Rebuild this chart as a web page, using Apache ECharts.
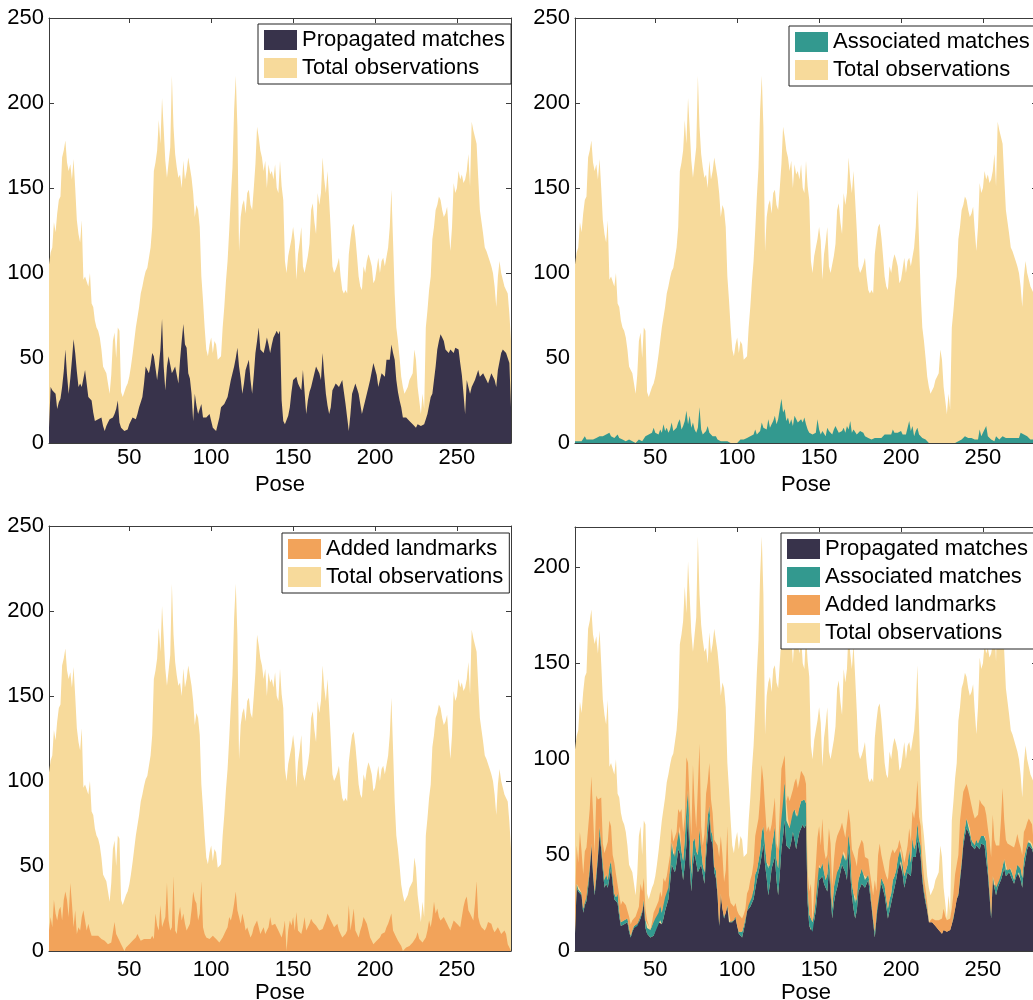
<!DOCTYPE html>
<html>
<head>
<meta charset="utf-8">
<script src="https://cdn.jsdelivr.net/npm/echarts@6/dist/echarts.min.js"></script>
<style>
html,body{margin:0;padding:0;background:#fff;overflow:hidden;}
#chart{width:1033px;height:1000px;}
</style>
</head>
<body>
<div id="chart"></div>
<script>
// ---- data ----
const totalObservations = [
105,112,115,130,124,135,143,145,168,172,
178,165,160,164,155,167,150,131,123,118,
131,96,98,95,92,100,82,80,72,68,
66,62,55,45,43,41,35,29,40,60,
65,50,68,66,30,27,30,33,35,39,
45,52,60,68,74,80,88,92,97,101,
103,104,115,127,160,165,172,190,176,203,
185,166,156,165,174,216,186,170,162,156,
158,150,166,155,160,168,162,156,147,133,
140,137,127,98,84,68,55,51,58,62,
53,60,58,49,50,51,68,80,95,107,
125,145,162,196,216,186,113,133,140,143,
135,147,149,140,137,150,164,186,180,172,
168,160,166,150,164,158,160,155,164,150,
147,166,151,143,107,100,110,115,120,127,
119,96,111,118,127,104,100,100,110,117,
137,141,130,123,147,140,147,168,155,147,
160,143,125,104,100,102,105,109,98,90,
88,90,88,111,120,127,129,121,110,98,
92,90,104,100,107,111,108,104,94,96,
96,109,100,107,109,104,104,115,127,149,
119,88,68,60,50,39,33,29,30,33,
37,39,41,55,49,33,25,17,29,20,
68,78,90,98,120,127,137,140,145,143,
137,133,135,139,125,113,127,153,147,150,
160,155,158,153,155,160,170,151,189,184,
180,176,156,137,130,123,115,113,110,107,
104,100,92,80,98,107,100,96,92,90,
88,76,60];

const propagatedMatches = [
9,33,31,30,29,20,24,26,33,42,
55,40,29,38,49,61,53,42,33,35,
33,38,43,35,27,26,25,18,13,14,
14,15,15,10,7,10,12,14,13,15,
17,20,25,12,9,8,7,7,8,11,
12,15,16,14,17,21,24,27,35,45,
43,41,46,53,51,44,37,45,55,73,
45,31,45,51,46,41,43,45,40,35,
49,60,70,58,56,41,38,29,13,29,
22,17,20,23,15,15,15,16,17,13,
9,8,7,11,15,21,22,23,25,27,
32,37,41,45,50,56,45,38,29,35,
43,46,49,37,29,40,53,60,68,55,
54,53,57,62,58,53,58,62,64,66,
64,66,25,13,11,10,16,21,30,37,
38,39,35,33,31,43,30,17,25,30,
33,37,41,45,43,41,37,53,40,29,
22,17,21,31,33,35,34,33,35,37,
30,23,15,7,17,29,29,35,32,29,
23,17,21,25,29,33,37,42,47,47,
40,33,37,41,40,39,49,49,49,58,
53,49,37,30,25,21,15,15,15,14,
13,12,11,10,9,11,11,10,10,11,
14,17,22,27,29,37,45,55,60,64,
62,60,55,54,53,55,54,53,56,55,
55,47,40,29,17,37,33,29,33,35,
37,40,43,39,40,41,39,37,35,38,
41,41,37,33,43,48,53,55,54,53,
50,47,21];

const associatedMatches = [
1,2,1,2,1,2,4,2,3,2,
1,2,2,3,2,4,3,4,4,5,
4,6,4,3,3,2,5,3,2,2,
2,1,2,2,1,1,1,0,1,2,
1,1,2,4,3,5,4,6,9,6,
7,5,8,6,11,7,9,6,8,12,
7,8,9,12,14,8,10,13,19,11,
16,9,12,8,6,9,21,8,5,6,
7,10,6,5,4,3,4,2,1,1,
0,1,0,1,0,0,1,0,1,0,
1,2,3,2,2,3,2,4,3,5,
8,5,6,7,12,9,10,8,14,9,
11,13,16,11,14,20,26,18,20,13,
15,11,14,10,16,17,12,13,14,12,
15,11,8,6,6,5,4,6,14,8,
5,7,6,4,9,7,6,5,8,10,
8,6,5,7,9,6,10,8,13,6,
8,8,5,6,7,8,6,4,3,3,
4,2,2,3,2,3,2,3,4,5,
4,5,6,5,8,6,5,6,7,7,
5,6,5,4,13,7,10,4,7,9,
5,6,3,2,2,1,0,0,0,0,
0,0,0,0,0,0,0,0,0,0,
0,1,0,0,1,2,2,3,4,5,
3,4,3,2,2,3,2,8,4,6,
5,10,4,3,2,2,1,4,3,2,
3,4,5,3,2,3,4,3,2,3,
4,3,6,5,5,4,4,3,2,3,
2,3,2];

const addedLandmarks = [
12,20,14,30,22,18,24,26,18,30,
35,30,20,40,28,14,24,10,14,12,
20,24,18,12,16,12,9,8,9,10,
9,8,7,6,6,5,4,4,5,6,
17,10,11,6,4,2,0,2,3,4,
5,6,7,8,10,8,6,7,7,7,
7,8,7,9,7,22,15,12,27,14,
17,20,40,18,12,14,44,12,10,20,
26,18,22,16,12,14,16,24,35,30,
28,18,22,41,14,10,8,7,7,8,
9,8,7,6,5,6,8,10,12,14,
20,18,22,28,35,24,20,16,22,18,
12,14,15,8,10,14,16,18,14,10,
12,14,10,12,14,20,15,14,16,17,
12,10,8,12,18,0,12,18,15,20,
12,23,12,11,10,14,20,12,14,16,
19,17,18,15,14,12,12,13,14,18,
22,23,18,16,14,15,16,12,10,8,
7,10,12,27,12,18,25,12,10,8,
12,15,20,21,16,12,8,6,4,5,
6,7,8,10,11,11,14,16,19,22,
12,10,8,6,5,3,0,1,2,2,
3,3,5,6,8,11,7,6,5,6,
8,12,18,14,20,29,22,25,20,18,
19,20,18,16,14,12,15,18,17,16,
15,14,20,26,30,32,24,22,20,18,
28,41,20,16,14,13,12,14,17,16,
16,13,11,12,14,12,10,11,12,10,
4,2,0];

const xTicks = ['50', '100', '150', '200', '250'];
const yTicks = [0, 50, 100, 150, 200, 250];
const yTicksBR = [0, 50, 100, 150, 200];
const NAMES = {
  prop: 'Propagated matches',
  assoc: 'Associated matches',
  added: 'Added landmarks',
  total: 'Total observations'
};

// ---- styling ----
const FONT = '"Liberation Sans", Arial, sans-serif';
const COLORS = {prop:'#38334b', assoc:'#33998f', added:'#f2a35a', total:'#f7da9b'};
const AX = '#3c3c3c';
const poses = totalObservations.map((_, i) => String(i + 1));
const showTick = (idx, val) => xTicks.indexOf(String(val)) >= 0;

const grids = [
  {left:49, top:18, width:462, height:425, outerBoundsMode:'none', containLabel:false},
  {left:575, top:18, width:462, height:425, outerBoundsMode:'none', containLabel:false},
  {left:49, top:526, width:462, height:425, outerBoundsMode:'none', containLabel:false},
  {left:575, top:527, width:462, height:424, outerBoundsMode:'none', containLabel:false}
];
const yMax = [250, 250, 250, 221];

const xAxis = [], yAxis = [];
grids.forEach((g, i) => {
  xAxis.push({
    type:'category', data:poses, boundaryGap:false, gridIndex:i, position:'bottom',
    axisLine:{show:true, onZero:false, lineStyle:{color:AX, width:1}},
    axisTick:{show:true, inside:true, length:5, interval:showTick, lineStyle:{color:AX}},
    axisLabel:{show:true, interval:showTick, color:'#000', fontSize:22, fontFamily:FONT, margin: i < 2 ? 4 : 8},
    splitLine:{show:false},
    name:'Pose', nameLocation:'middle', nameGap: i < 2 ? 31 : 28,
    nameTextStyle:{color:'#000', fontSize:22, fontFamily:FONT}
  });
});
grids.forEach((g, i) => {
  xAxis.push({
    type:'category', data:poses, boundaryGap:false, gridIndex:i, position:'top',
    axisLine:{show:true, onZero:false, lineStyle:{color:AX, width:1}},
    axisTick:{show:true, inside:true, length:5, interval:showTick, lineStyle:{color:AX}},
    axisLabel:{show:false}, splitLine:{show:false}
  });
});
grids.forEach((g, i) => {
  const t = i === 3 ? yTicksBR : yTicks;
  yAxis.push({
    type:'value', gridIndex:i, min:0, max:yMax[i], position:'left',
    axisLine:{show:true, onZero:false, lineStyle:{color:AX, width:1}},
    axisTick:{show:true, inside:true, length:5, customValues:t, lineStyle:{color:AX}},
    axisLabel:{show:true, customValues:t, color:'#000', fontSize:22, fontFamily:FONT, margin:5},
    splitLine:{show:false}
  });
});
grids.forEach((g, i) => {
  const t = i === 3 ? yTicksBR : yTicks;
  yAxis.push({
    type:'value', gridIndex:i, min:0, max:yMax[i], position:'right',
    axisLine:{show:true, onZero:false, lineStyle:{color:AX, width:1}},
    axisTick:{show:true, inside:true, length:5, customValues:t, lineStyle:{color:AX}},
    axisLabel:{show:false}, splitLine:{show:false}
  });
});

function area(key, data, gi, stack) {
  const s = {
    name: NAMES[key], type:'line', xAxisIndex:gi, yAxisIndex:gi,
    data: data, showSymbol:false, symbol:'none', silent:true,
    color: COLORS[key],
    lineStyle:{width:0, opacity:0},
    itemStyle:{color:COLORS[key]},
    areaStyle:{color:COLORS[key], opacity:1},
    animation:false
  };
  if (stack) s.stack = stack;
  return s;
}

const series = [
  area('total', totalObservations, 0), area('prop', propagatedMatches, 0),
  area('total', totalObservations, 1), area('assoc', associatedMatches, 1),
  area('total', totalObservations, 2), area('added', addedLandmarks, 2),
  area('total', totalObservations, 3),
  area('prop', propagatedMatches, 3, 'br'),
  area('assoc', associatedMatches, 3, 'br'),
  area('added', addedLandmarks, 3, 'br')
];

function legend(left, top, keys) {
  return {
    orient:'vertical', left:left, top:top, selectedMode:false,
    itemWidth:33, itemHeight:20, itemGap:6,
    padding:[5,6,5,6], borderColor:'#222', borderWidth:1, borderRadius:0,
    backgroundColor:'#fff',
    textStyle:{color:'#000', fontSize:22, fontFamily:FONT, lineHeight:20},
    data: keys.map(k => ({name:NAMES[k], icon:'rect', itemStyle:{color:COLORS[k]}}))
  };
}

const option = {
  animation:false,
  backgroundColor:'#fff',
  grid: grids,
  xAxis: xAxis,
  yAxis: yAxis,
  legend: [
    legend(258, 24, ['prop','total']),
    legend(789, 26, ['assoc','total']),
    legend(282, 533, ['added','total']),
    legend(781, 533, ['prop','assoc','added','total'])
  ],
  series: series
};

const chart = echarts.init(document.getElementById('chart'), null, {renderer:'canvas'});
chart.setOption(option);
</script>
</body>
</html>
